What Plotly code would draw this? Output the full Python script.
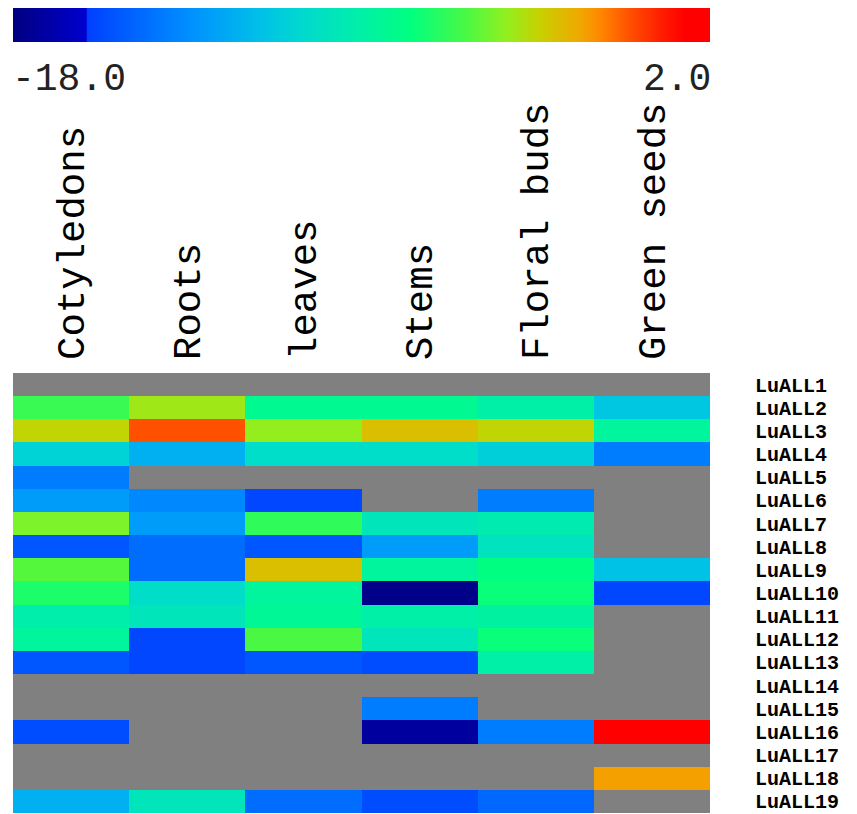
import numpy as np
import plotly.graph_objects as go

tissues = ["Cotyledons", "Roots", "leaves", "Stems", "Floral buds", "Green seeds"]
genes = ["LuALL%d" % i for i in range(1, 20)]
nan = None
# expression values (log scale), None = no data (gray)
cotyledons = [nan, -5.4, -3.0, -10.0, -13.6, -12.4, -4.2, -15.0, -4.8, -6.0, -8.2, -7.6, -15.0, nan, nan, -15.4, nan, nan, -11.6]
roots      = [nan, -3.6, -0.3, -11.6, nan, -13.2, -12.4, -14.2, -14.2, -9.4, -8.8, -15.6, -15.6, nan, nan, nan, nan, nan, -8.8]
leaves     = [nan, -7.2, -3.8, -9.4, nan, -15.6, -5.6, -15.0, -2.4, -7.6, -7.4, -5.0, -15.0, nan, nan, nan, nan, nan, -14.2]
stems      = [nan, -7.2, -2.4, -9.4, nan, nan, -8.8, -12.4, -7.6, -17.8, -8.0, -8.8, -15.4, nan, -13.6, -17.2, nan, nan, -15.4]
floral     = [nan, -8.0, -3.0, -10.2, nan, -13.6, -8.4, -9.0, -6.6, -6.4, -7.8, -6.4, -8.0, nan, nan, -13.6, nan, nan, -14.4]
seeds      = [nan, -10.6, -7.6, -13.6, nan, nan, nan, nan, -10.8, -15.6, nan, nan, nan, nan, nan, 1.5, nan, -1.6, nan]
zmin, zmax = -18.0, 2.0

cols = [cotyledons, roots, leaves, stems, floral, seeds]
z = np.array([[np.nan if c[i] is None else c[i] for c in cols] for i in range(len(genes))], dtype=float)

colorscale = [
    [0.0, "#000080"], [0.105, "#0000d0"], [0.107, "#0040ff"], [0.254, "#0090ff"],
    [0.354, "#00c0e8"], [0.412, "#00d8d0"], [0.498, "#00f0a8"], [0.57, "#00ff80"],
    [0.656, "#50f840"], [0.706, "#90f020"], [0.756, "#c8d000"], [0.813, "#f0a800"],
    [0.842, "#ff8800"], [0.885, "#ff5000"], [0.928, "#ff2000"], [0.964, "#ff0000"],
    [1.0, "#ff0000"],
]

OFF = 8  # page body margin (top/left)
W, H = 857 - OFF, 814 - OFF
x0, x1 = 13 - OFF, 710 - OFF
yt, yb = 373 - OFF, 813 - OFF
cb_top = 8 - OFF
lab_y = 80 - OFF

fig = go.Figure(go.Heatmap(
    z=z, x=tissues, y=genes, zmin=zmin, zmax=zmax, colorscale=colorscale,
    hoverongaps=False,
    colorbar=dict(
        orientation="h", x=(x0 + x1) / 2 / W, xanchor="center",
        y=1 - cb_top / H, yanchor="top", len=(x1 - x0) / W, lenmode="fraction",
        thickness=34, outlinewidth=0, xpad=0, ypad=0, showticklabels=False, ticks="",
    ),
))

mono = "Liberation Mono, Courier New, monospace"
fig.update_layout(
    width=W, height=H, margin=dict(l=0, r=0, t=0, b=0),
    paper_bgcolor="white", plot_bgcolor="#808080",
    xaxis=dict(domain=[x0 / W, x1 / W], side="top", tickangle=-90, showgrid=False,
               zeroline=False, ticks="", ticklabelstandoff=12,
               tickfont=dict(family=mono, size=39, color="black")),
    yaxis=dict(domain=[max(0, 1 - yb / H), 1 - yt / H], side="right", autorange="reversed",
               showgrid=False, zeroline=False, ticks="", ticklabelstandoff=44,
               tickmode="array", tickvals=genes, ticktext=genes,
               tickfont=dict(family=mono, size=20, color="black", weight="bold")),
    annotations=[
        dict(text="%.1f" % zmin, x=x0 / W - 0.004, xanchor="left", y=1 - lab_y / H, yanchor="middle",
             xref="paper", yref="paper", showarrow=False,
             font=dict(family=mono, size=38, color="#222")),
        dict(text="%.1f" % zmax, x=x1 / W + 0.003, xanchor="right", y=1 - lab_y / H, yanchor="middle",
             xref="paper", yref="paper", showarrow=False,
             font=dict(family=mono, size=38, color="#222")),
    ],
)
fig.write_html("out.html")
